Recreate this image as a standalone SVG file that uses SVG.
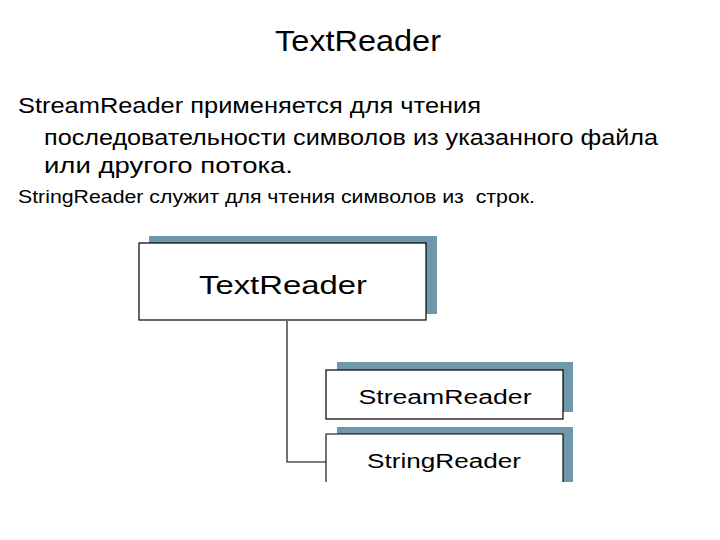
<svg xmlns="http://www.w3.org/2000/svg" width="720" height="540" viewBox="0 0 720 540">
<style>
text{font-family:"Liberation Sans",Arial,sans-serif;fill:#000}
.shadow{fill:#6f97aa}
.box{fill:#fff;stroke:#000;stroke-width:1.2}
.conn{fill:none;stroke:#000;stroke-width:1.1}
</style>
<rect width="720" height="540" fill="#fff"/>
<text x="358" y="51" font-size="29" text-anchor="middle" textLength="166" lengthAdjust="spacingAndGlyphs">TextReader</text>
<text x="18" y="113" font-size="22" textLength="463" lengthAdjust="spacingAndGlyphs">StreamReader применяется для чтения</text>
<text x="44" y="145" font-size="22" textLength="614" lengthAdjust="spacingAndGlyphs">последовательности символов из указанного файла</text>
<text x="44" y="173" font-size="22" textLength="249" lengthAdjust="spacingAndGlyphs">или другого потока.</text>
<text x="18" y="203" font-size="18" textLength="517" lengthAdjust="spacingAndGlyphs">StringReader служит для чтения символов из&#160; строк.</text>
<g id="connectors">
<path class="conn" d="M287 321 V462 H326"/>
</g>
<g id="textreader">
<rect class="shadow" x="149" y="236" width="288" height="78"/>
<rect class="box" x="139" y="243" width="287" height="77"/>
<text x="283" y="294" font-size="25" text-anchor="middle" textLength="168" lengthAdjust="spacingAndGlyphs">TextReader</text>
</g>
<g id="streamreader">
<rect class="shadow" x="337" y="362" width="236" height="50"/>
<rect class="box" x="326" y="370" width="237" height="49"/>
<text x="445" y="404" font-size="20" text-anchor="middle" textLength="173" lengthAdjust="spacingAndGlyphs">StreamReader</text>
</g>
<g id="stringreader">
<rect class="shadow" x="337" y="427" width="236" height="55"/>
<rect x="326" y="434" width="237" height="48" fill="#fff"/>
<path class="conn" d="M326 482 V434 H563 V482"/>
<text x="444" y="468" font-size="20" text-anchor="middle" textLength="154" lengthAdjust="spacingAndGlyphs">StringReader</text>
</g>
</svg>
